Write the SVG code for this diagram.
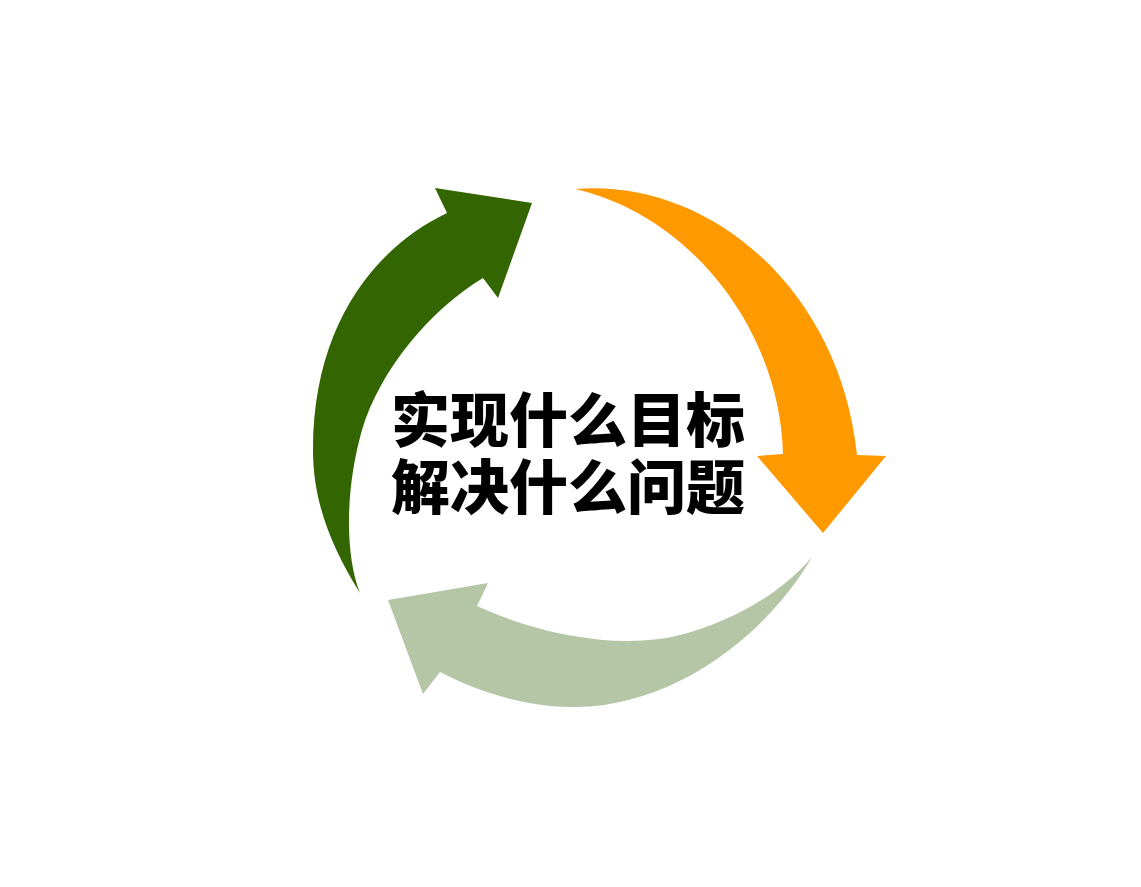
<svg xmlns="http://www.w3.org/2000/svg" width="1141" height="887" viewBox="0 0 1141 887">
<style>
.lbl{font-family:"Noto Sans CJK SC","Noto Sans",sans-serif;font-weight:900;font-size:59px;fill:#000;text-anchor:middle}
</style>
<rect width="1141" height="887" fill="#fff"/>
<g id="connectors">
<path id="arrow-green" fill="#336600" d="M360,593 C330,545 313,500 313,450 C313,330 370,250 447,213 L435,188 L532,203 L498,298 L483,278 C430,310 380,370 362,430 C345,490 345,555 360,593 Z"/>
<path id="arrow-orange" fill="#FF9900" d="M575,189 C710,178 840,290 857,455 L886,456 L823,533 L757,456 L783,454 C780,330 690,215 575,189 Z"/>
<path id="arrow-sage" fill="#B5C6A6" d="M812,557 C770,630 680,705 577,707 C530,708 480,693 440,672 L423,694 L388,600 L488,583 L477,606 C540,635 620,650 680,635 C730,622 780,595 812,557 Z"/>
</g>
<g id="center-label">
<text class="lbl" x="568" y="442">实现什么目标</text>
<text class="lbl" x="568" y="509">解决什么问题</text>
</g>
</svg>
